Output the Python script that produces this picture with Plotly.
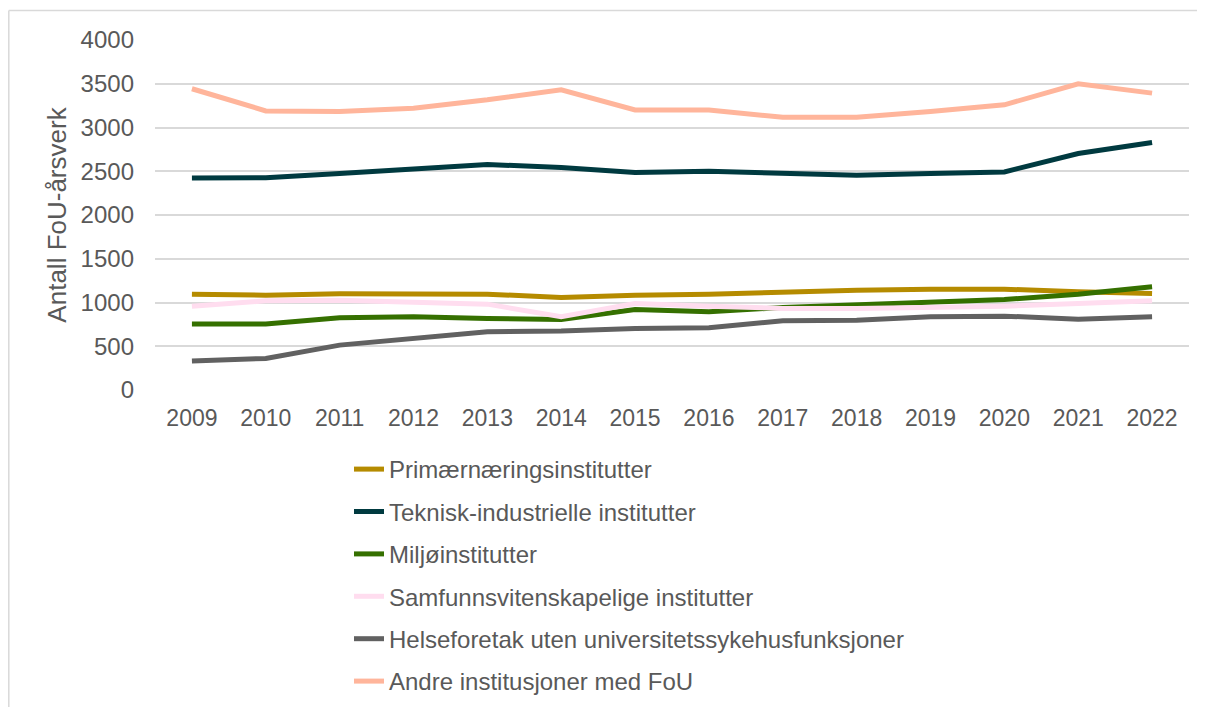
import plotly.graph_objects as go

years = [str(y) for y in range(2009, 2023)]

primaer = [1095, 1084, 1099, 1091, 1095, 1057, 1084, 1095, 1122, 1141, 1152, 1152, 1122, 1103]
teknisk = [2423, 2427, 2473, 2519, 2577, 2542, 2485, 2500, 2473, 2454, 2473, 2492, 2703, 2829]
miljo = [753, 753, 825, 837, 817, 806, 920, 894, 943, 970, 1008, 1034, 1095, 1179]
samfunn = [958, 1019, 1027, 1000, 981, 837, 989, 958, 932, 932, 943, 958, 989, 1019]
helse = [331, 361, 513, 589, 665, 673, 703, 711, 791, 798, 836, 844, 810, 836]
andre = [3443, 3190, 3182, 3220, 3316, 3431, 3201, 3201, 3117, 3117, 3182, 3259, 3500, 3393]

series_names = [
    "Primærnæringsinstitutter",
    "Teknisk-industrielle institutter",
    "Miljøinstitutter",
    "Samfunnsvitenskapelige institutter",
    "Helseforetak uten universitetssykehusfunksjoner",
    "Andre institusjoner med FoU",
]
series_values = [primaer, teknisk, miljo, samfunn, helse, andre]
series_colors = ["#B58B00", "#003A40", "#357000", "#FFDDEF", "#616161", "#FFB59B"]

y_ticks = [0, 500, 1000, 1500, 2000, 2500, 3000, 3500, 4000]

fig = go.Figure()
for i, (name, vals, col) in enumerate(zip(series_names, series_values, series_colors)):
    fig.add_trace(go.Scatter(
        x=years, y=vals, name=name, mode="lines",
        line=dict(color=col, width=5),
        legendgroup=f"g{i}",
    ))

# page body adds an 8px offset; lay the figure out in page pixels minus that offset
OFF = 8
W, H = 1205 - OFF, 707 - OFF
ml, mt = 155 - OFF, 40 - OFF
mr = W - (1189 - OFF)
mb = H - (390 - OFF)
pw, ph = W - ml - mr, H - mt - mb

def px_x(p):
    return (p - OFF - ml) / pw

def px_y(p):
    return (H - mb - (p - OFF)) / ph

border = dict(color="#D9D9D9", width=1.5)
# outer chart frame: top edge and left edge (right/bottom fall outside the view)
fig.add_shape(type="line", xref="paper", yref="paper",
              x0=px_x(8.8), x1=px_x(1260), y0=px_y(10.5), y1=px_y(10.5),
              line=border, layer="below")
fig.add_shape(type="line", xref="paper", yref="paper",
              x0=px_x(8.8), x1=px_x(8.8), y0=px_y(10.5), y1=px_y(760),
              line=border, layer="below")

fig.update_layout(
    width=W, height=H,
    margin=dict(l=ml, r=mr, t=mt, b=mb, autoexpand=False),
    paper_bgcolor="white", plot_bgcolor="white",
    font=dict(family="Liberation Sans, Arial, sans-serif", color="#595959", size=24),
    showlegend=True,
    legend=dict(
        orientation="v",
        x=px_x(349), xanchor="left",
        y=px_y(447), yanchor="top",
        font=dict(size=24, color="#595959"),
        tracegroupgap=8.2,
        bgcolor="rgba(0,0,0,0)",
    ),
    xaxis=dict(
        type="category", range=[-0.5, 13.5],
        showgrid=False, showline=False, zeroline=False,
        ticks="", tickfont=dict(size=23, color="#595959"),
        ticklabelstandoff=12,
    ),
    yaxis=dict(
        range=[0, 4000], tickvals=y_ticks,
        showgrid=True, gridcolor="#D9D9D9", gridwidth=1.5,
        zeroline=False, showline=False,
        ticks="", tickfont=dict(size=24, color="#595959"),
        ticklabelstandoff=20,
        title=dict(text="Antall FoU-årsverk", font=dict(size=26, color="#595959"), standoff=6),
    ),
)

fig.write_html("out.html")
